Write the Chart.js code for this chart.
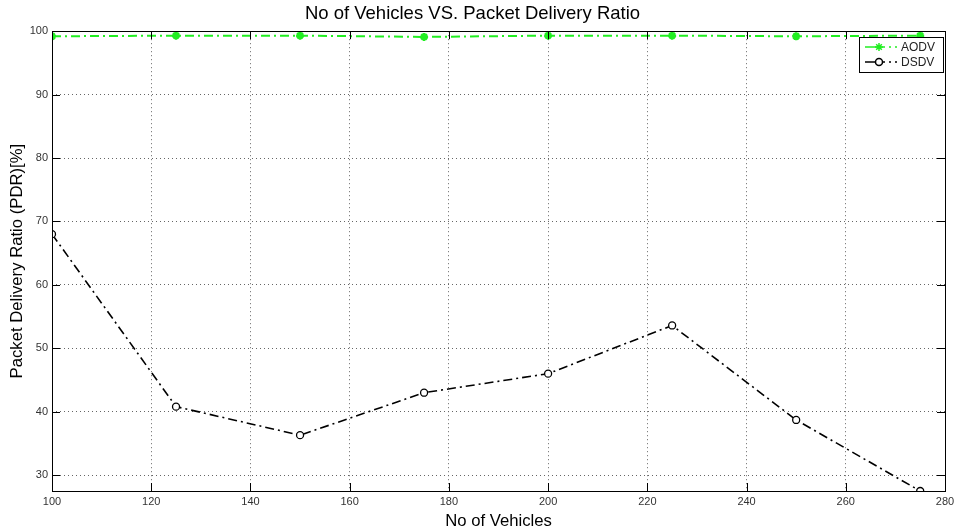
<!DOCTYPE html>
<html>
<head>
<meta charset="utf-8">
<script src="https://cdn.jsdelivr.net/npm/chart.js@4"></script>
<style>
html,body{margin:0;padding:0;background:#fff;}
#wrap{width:956px;height:531px;position:relative;}
</style>
</head>
<body>
<div id="wrap"><canvas id="c" width="956" height="531"></canvas></div>
<script>
const vehicles = [100, 125, 150, 175, 200, 225, 250, 275];
const aodv = [99.2, 99.3, 99.3, 99.1, 99.3, 99.3, 99.2, 99.3];
const dsdv = [68.0, 40.8, 36.3, 43.0, 46.0, 53.6, 38.7, 27.5];
const xTicks = [100, 120, 140, 160, 180, 200, 220, 240, 260, 280];
const yTicks = [30, 40, 50, 60, 70, 80, 90, 100];

const FONT = "'Liberation Sans', Arial, sans-serif";

const boxPlugin = {
  id: 'box',
  afterDraw(chart) {
    const {ctx, chartArea: a} = chart;
    ctx.save();
    ctx.strokeStyle = '#000';
    ctx.lineWidth = 1;
    ctx.strokeRect(Math.round(a.left) + 0.5, Math.round(a.top) + 0.5, Math.round(a.right - a.left), Math.round(a.bottom - a.top));
    const xs = chart.scales.x, ys = chart.scales.y;
    ctx.beginPath();
    xTicks.forEach(v => {
      const px = Math.round(xs.getPixelForValue(v)) + 0.5;
      ctx.moveTo(px, a.bottom); ctx.lineTo(px, a.bottom - 8);
      ctx.moveTo(px, a.top); ctx.lineTo(px, a.top + 8);
    });
    yTicks.forEach(v => {
      const py = Math.round(ys.getPixelForValue(v)) + 0.5;
      ctx.moveTo(a.left, py); ctx.lineTo(a.left + 8, py);
      ctx.moveTo(a.right, py); ctx.lineTo(a.right - 8, py);
    });
    ctx.stroke();

    // legend
    const lx = 859, ly = 37, lw = 84, lh = 35;
    ctx.fillStyle = '#fff';
    ctx.fillRect(lx, ly, lw, lh);
    ctx.strokeStyle = '#000';
    ctx.strokeRect(lx + 0.5, ly + 0.5, lw, lh);
    chart.data.datasets.forEach((ds, i) => {
      const y = ly + 10 + i * 15;
      ctx.strokeStyle = ds.borderColor;
      ctx.lineWidth = 1.5;
      ctx.setLineDash([]);
      ctx.beginPath();
      ctx.moveTo(lx + 6, y); ctx.lineTo(lx + 24, y);
      ctx.stroke();
      ctx.setLineDash([2, 4]);
      ctx.beginPath();
      ctx.moveTo(lx + 24, y); ctx.lineTo(lx + 40, y);
      ctx.stroke();
      ctx.setLineDash([]);
      ctx.strokeStyle = ds.pointBorderColor;
      ctx.fillStyle = ds.pointBackgroundColor;
      Chart.helpers.drawPoint(ctx, {
        pointStyle: ds.pointStyle, radius: ds.pointRadius, borderWidth: ds.pointBorderWidth
      }, lx + 20, y);
      ctx.fillStyle = '#222';
      ctx.font = '12px ' + FONT;
      ctx.textBaseline = 'middle';
      ctx.textAlign = 'left';
      ctx.fillText(ds.label, lx + 42, y + 1);
    });
    ctx.restore();
  }
};

new Chart(document.getElementById('c'), {
  type: 'line',
  data: {
    datasets: [
      {
        label: 'AODV',
        data: vehicles.map((v, i) => ({x: v, y: aodv[i]})),
        borderColor: '#22ee22',
        borderWidth: 2,
        borderDash: [9, 4, 2, 4],
        pointStyle: 'star',
        pointRadius: 4,
        pointBorderWidth: 2.5,
        pointBorderColor: '#22ee22',
        pointBackgroundColor: '#22ee22',
        tension: 0,
        fill: false
      },
      {
        label: 'DSDV',
        data: vehicles.map((v, i) => ({x: v, y: dsdv[i]})),
        borderColor: '#000',
        borderWidth: 1.6,
        borderDash: [9, 4, 2, 4],
        pointStyle: 'circle',
        pointRadius: 3.5,
        pointBorderWidth: 1.3,
        pointBorderColor: '#000',
        pointBackgroundColor: '#fff',
        tension: 0,
        fill: false
      }
    ]
  },
  options: {
    responsive: false,
    animation: false,
    layout: {padding: {left: 0, right: 11, top: 0, bottom: 0}},
    plugins: {
      legend: {display: false},
      tooltip: {enabled: false},
      title: {
        display: true,
        text: 'No of Vehicles VS. Packet Delivery Ratio',
        color: '#000',
        font: {family: FONT, size: 18.5, weight: 'normal'},
        padding: {top: 3, bottom: 6}
      }
    },
    scales: {
      x: {
        type: 'linear',
        min: 100,
        max: 280,
        afterBuildTicks(s) { s.ticks = xTicks.map(v => ({value: v})); },
        afterFit(s) { s.height = 40; s.paddingRight = 0; s.paddingLeft = 0; },
        grid: {color: '#666', drawTicks: false, lineWidth: 1},
        border: {display: false, dash: [1, 3]},
        ticks: {color: '#333', font: {family: FONT, size: 11}, padding: 4, maxRotation: 0},
        title: {display: true, text: 'No of Vehicles', color: '#000', font: {family: FONT, size: 16.7}, padding: {top: 0, bottom: 0}}
      },
      y: {
        type: 'linear',
        min: 27.5,
        max: 100,
        afterBuildTicks(s) { s.ticks = yTicks.map(v => ({value: v})); },
        afterFit(s) { s.width = 52; },
        grid: {color: '#666', drawTicks: false, lineWidth: 1},
        border: {display: false, dash: [1, 3]},
        ticks: {color: '#333', font: {family: FONT, size: 11}, padding: 4},
        title: {display: true, text: 'Packet Delivery Ratio (PDR)[%]', color: '#000', font: {family: FONT, size: 16.7}, padding: {top: 7, bottom: 0}}
      }
    }
  },
  plugins: [boxPlugin]
});
</script>
</body>
</html>
